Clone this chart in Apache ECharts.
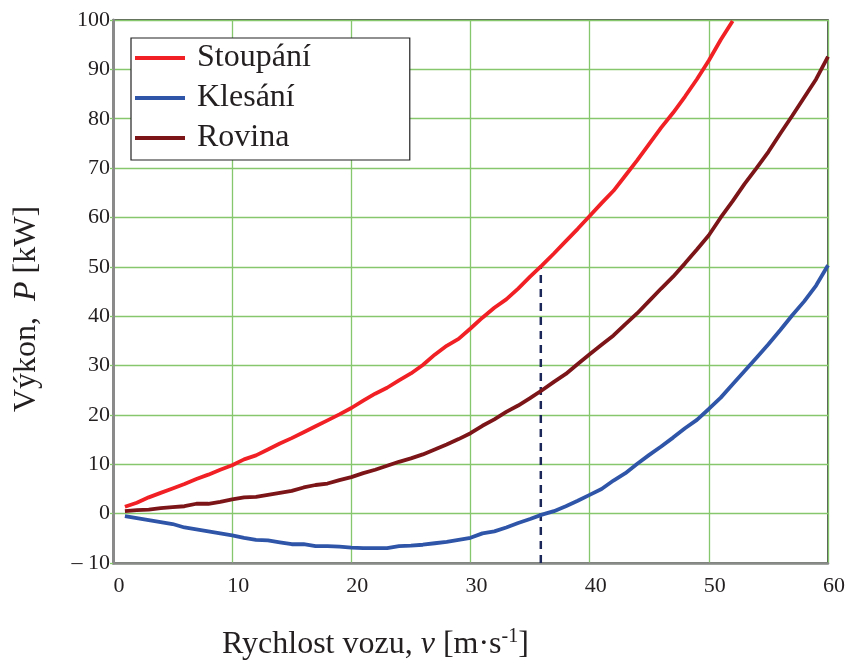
<!DOCTYPE html>
<html>
<head>
<meta charset="utf-8">
<script src="https://cdn.jsdelivr.net/npm/echarts@6/dist/echarts.min.js"></script>
<style>
  html, body { margin: 0; padding: 0; background: #fff; }
  #chart { width: 848px; height: 661px; }
</style>
</head>
<body>
<div id="chart"></div>
<script>
// Speed of the vehicle, m/s
const speed = [];
for (let v = 1; v <= 60; v++) speed.push(v);

// Power on an uphill grade (kW), v = 1..52
const stoupani = [1.4, 2.2, 3.3, 4.2, 5.1, 6.0, 7.0, 7.9, 8.9, 9.8,
  11.0, 11.8, 13.0, 14.2, 15.3, 16.5, 17.7, 18.9, 20.1, 21.4,
  22.9, 24.3, 25.5, 27.0, 28.4, 30.1, 32.2, 34.0, 35.4, 37.5,
  39.7, 41.7, 43.4, 45.6, 48.0, 50.3, 52.7, 55.2, 57.7, 60.3,
  62.9, 65.4, 68.5, 71.6, 74.9, 78.2, 81.2, 84.5, 88.0, 91.8,
  96.0, 99.8];

// Power on a downhill grade (kW), v = 1..60
const klesani = [-0.5, -0.9, -1.3, -1.7, -2.1, -2.8, -3.2, -3.6, -4.0, -4.4,
  -4.9, -5.3, -5.4, -5.8, -6.2, -6.2, -6.6, -6.6, -6.7, -6.9,
  -7.0, -7.0, -7.0, -6.6, -6.5, -6.3, -6.0, -5.7, -5.3, -4.9,
  -4.0, -3.6, -2.8, -1.9, -1.1, -0.2, 0.5, 1.5, 2.6, 3.8,
  5.0, 6.7, 8.2, 10.1, 11.9, 13.6, 15.4, 17.3, 19.0, 21.2,
  23.5, 26.2, 28.9, 31.6, 34.3, 37.2, 40.2, 43.0, 46.2, 50.3];

// Power on level road (kW), v = 1..60
const rovina = [0.5, 0.7, 0.8, 1.1, 1.3, 1.5, 2.0, 2.0, 2.4, 2.9,
  3.3, 3.4, 3.8, 4.2, 4.6, 5.3, 5.8, 6.1, 6.8, 7.4,
  8.2, 8.9, 9.7, 10.5, 11.2, 12.0, 13.0, 14.0, 15.1, 16.3,
  17.8, 19.1, 20.6, 21.9, 23.4, 25.0, 26.7, 28.3, 30.3, 32.3,
  34.2, 36.1, 38.4, 40.6, 43.1, 45.6, 48.0, 50.7, 53.5, 56.4,
  60.0, 63.3, 66.8, 70.0, 73.3, 77.0, 80.6, 84.3, 88.0, 92.6];

// Reference speed marker: from the axis floor up to the uphill curve
const markerSpeed = 35.9;
const markerFrom = -10;
const markerTo = 50.2;

const seriesNames = ['Stoupání', 'Klesání', 'Rovina'];
const xTicks = { min: 0, max: 60, step: 10 };
const yTicks = { min: -10, max: 100, step: 10 };

function pairs(values) {
  return values.map((p, i) => [speed[i], p]);
}

const serif = '"Liberation Serif", "DejaVu Serif", serif';
const ink = '#231f20';

const chart = echarts.init(document.getElementById('chart'), null, { renderer: 'canvas' });

const lineSeries = (name, values, color) => ({
  name: name,
  type: 'line',
  data: pairs(values),
  showSymbol: false,
  symbol: 'none',
  color: color,
  lineStyle: { color: color, width: 3.8 },
  z: 5,
  animation: false
});

chart.setOption({
  backgroundColor: '#ffffff',
  animation: false,
  grid: {
    left: 113, right: 20, top: 20, bottom: 98,
    show: true,
    borderColor: '#222',
    borderWidth: 1.5,
    backgroundColor: 'transparent'
  },
  legend: {
    data: seriesNames,
    orient: 'vertical',
    left: 131,
    top: 38,
    padding: [4, 99, 6, 4],
    itemGap: 8,
    itemWidth: 50,
    itemHeight: 4,
    icon: 'rect',
    backgroundColor: '#ffffff',
    borderColor: '#222',
    borderWidth: 1.2,
    borderRadius: 0,
    textStyle: {
      fontFamily: serif,
      fontSize: 32,
      lineHeight: 32,
      color: ink,
      padding: [0, 0, 0, 7]
    }
  },
  xAxis: {
    type: 'value',
    min: xTicks.min,
    max: xTicks.max,
    interval: xTicks.step,
    axisLine: { onZero: false, lineStyle: { color: '#8a8a8a', width: 2.5 } },
    axisTick: { show: false },
    splitLine: { show: true, lineStyle: { color: '#86c66c', width: 1.3 } },
    axisLabel: {
      fontFamily: serif,
      fontSize: 22,
      color: ink,
      margin: 12,
      padding: [0, 0, 0, 12]
    }
  },
  yAxis: {
    type: 'value',
    min: yTicks.min,
    max: yTicks.max,
    interval: yTicks.step,
    axisLine: { onZero: false, lineStyle: { color: '#8a8a8a', width: 3 } },
    axisTick: { show: true, length: 3, lineStyle: { color: '#86c66c', width: 1.3 } },
    splitLine: { show: true, lineStyle: { color: '#86c66c', width: 1.3 } },
    axisLabel: {
      fontFamily: serif,
      fontSize: 22,
      color: ink,
      margin: 3,
      padding: [8, 0, 0, 0],
      formatter: function (v) { return v < 0 ? '\u2013 ' + Math.abs(v) : String(v); }
    }
  },
  series: [
    lineSeries('Rovina', rovina, '#7c1518'),
    lineSeries('Klesání', klesani, '#2f55a8'),
    lineSeries('Stoupání', stoupani, '#f02024'),
    {
      name: 'marker',
      type: 'line',
      data: [[markerSpeed, markerFrom], [markerSpeed, markerTo]],
      showSymbol: false,
      symbol: 'none',
      lineStyle: { color: '#1b2759', width: 2.5, type: [8, 6] },
      z: 4,
      animation: false
    }
  ],
  graphic: [
    {
      type: 'text',
      left: 222,
      top: 627,
      style: {
        text: '{a|Rychlost vozu, }{i|v}{a| [m\u00b7s}{s|-1}{a|]}',
        fill: ink,
        rich: {
          a: { fontFamily: serif, fontSize: 32, fill: ink },
          i: { fontFamily: serif, fontSize: 32, fontStyle: 'italic', fill: ink },
          s: { fontFamily: serif, fontSize: 20, fill: ink, padding: [0, 0, 15, 0] }
        }
      }
    },
    {
      type: 'text',
      x: 27,
      y: 309,
      rotation: Math.PI / 2,
      style: {
        text: '{a|Výkon,  }{i|P}{a| [kW]}',
        align: 'center',
        verticalAlign: 'middle',
        fill: ink,
        rich: {
          a: { fontFamily: serif, fontSize: 32, fill: ink },
          i: { fontFamily: serif, fontSize: 32, fontStyle: 'italic', fill: ink }
        }
      }
    }
  ]
});
</script>
</body>
</html>
